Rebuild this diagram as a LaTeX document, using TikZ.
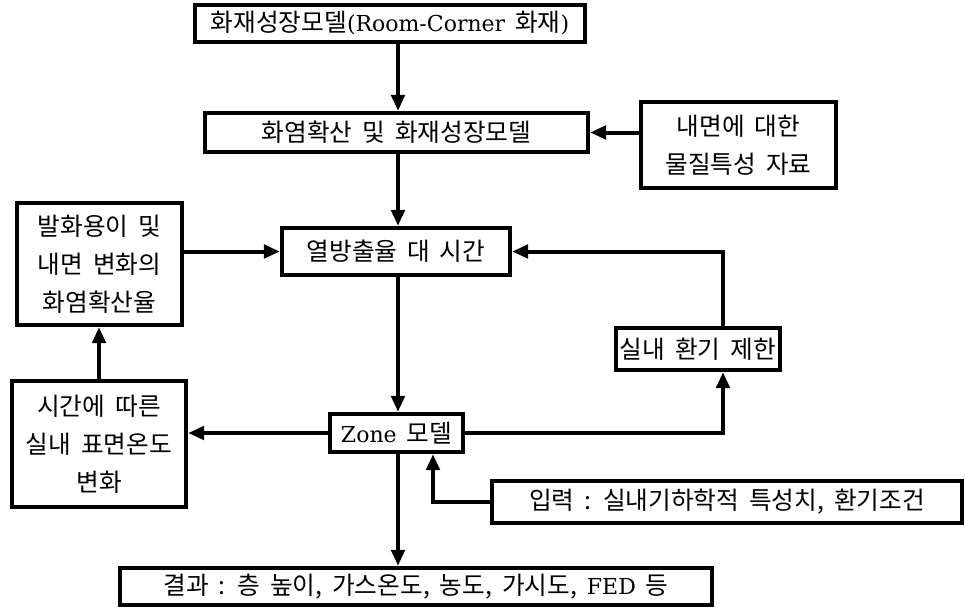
\documentclass[tikz,border=0pt]{standalone}
\usepackage{fontspec}
\setmainfont{Noto Sans CJK KR}[WordSpace=1.8]
\newfontfamily\latfam{DejaVu Serif}
\newcommand\latw[1]{{\latfam\fontsize{16.5}{28}\selectfont #1}}
\usetikzlibrary{arrows.meta}
\begin{document}
\begin{tikzpicture}[x=0.75pt,y=-0.75pt,
  box/.style={draw,line width=3.2pt,inner sep=0pt,align=center,font=\fontsize{18.5}{28.5}\selectfont},
  arr/.style={line width=3pt,-{Triangle[length=12pt,width=10pt]}},
  ln/.style={line width=3pt}]
\useasboundingbox (0,0) rectangle (965,612);
\coordinate (cx) at (398,0);
\coordinate (rx) at (723,0);
\coordinate (ix) at (433,0);

\node[box,minimum width=292.5pt,minimum height=27.75pt] (b1) at (390,23.5) {화재성장모델\latw{(Room-Corner} 화재\latw{)}};
\node[box,minimum width=287.25pt,minimum height=29.25pt] (b2) at (396.5,132.5) {화염확산 및 화재성장모델};
\node[box,minimum width=146.25pt,minimum height=64.5pt] (b3) at (738.5,145) {내면에 대한\\물질특성 자료};
\node[box,minimum width=171pt,minimum height=35.25pt] (b4) at (396,251.5) {열방출율 대 시간};
\node[box,minimum width=123.75pt,minimum height=91.5pt] (b5) at (99.5,264) {발화용이 및\\내면 변화의\\화염확산율};
\node[box,minimum width=123pt,minimum height=31.5pt] (b6) at (698,349) {실내 환기 제한};
\node[box,minimum width=99.75pt,minimum height=28.5pt] (zone) at (396.5,433) {\latw{Zone} 모델};
\node[box,minimum width=130.5pt,minimum height=94.5pt] (b7) at (99,444) {시간에 따른\\실내 표면온도\\변화};
\node[box,minimum width=352.5pt,minimum height=31.5pt] (inp) at (727,502) {입력 : 실내기하학적 특성치, 환기조건};
\node[box,minimum width=444pt,minimum height=27.75pt] (res) at (416,586.5) {결과 : 층 높이, 가스온도, 농도, 가시도, \latw{FED} 등};

\draw[arr] (b1.south -| cx) -- (b2.north -| cx);
\draw[arr] (b3.west |- b2.east) -- (b2.east);
\draw[arr] (b2.south -| cx) -- (b4.north -| cx);
\draw[arr] (b5.east |- b4.west) -- (b4.west);
\draw[arr] (b6.north -| rx) |- (b4.east);
\draw[arr] (b4.south -| cx) -- (zone.north -| cx);
\draw[arr] (zone.east) -| (b6.south -| rx);
\draw[arr] (zone.west) -- (zone.west -| b7.east);
\draw[arr] (b7.north) -- (b7.north |- b5.south);
\draw[arr] (inp.west) -| (zone.south -| ix);
\draw[arr] (zone.south -| cx) -- (res.north -| cx);
\end{tikzpicture}
\end{document}
